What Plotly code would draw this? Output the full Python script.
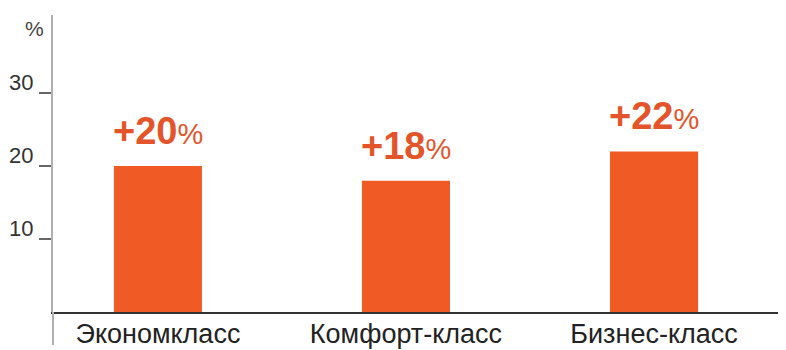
import plotly.graph_objects as go

categories = ["Экономкласс", "Комфорт-класс", "Бизнес-класс"]
values = [20, 18, 22]
tick_vals = [10, 20, 30]
tick_text = ["10", "20", "30"]

bar_color = "#f05a24"
label_color = "#e4542a"
FONT = "Liberation Sans, Arial, sans-serif"

fig = go.Figure()
fig.add_trace(go.Bar(
    x=categories, y=values,
    marker=dict(color=bar_color, line=dict(width=0)),
    hoverinfo="skip",
))

for c, v in zip(categories, values):
    fig.add_annotation(
        x=c, y=v, xref="x", yref="y",
        text=f"<b>+{v}</b><span style='font-size:29px'>%</span>",
        showarrow=False, yanchor="bottom", xanchor="center", yshift=12,
        font=dict(family=FONT, size=38, color=label_color),
    )

fig.add_annotation(
    x=0, y=1, xref="paper", yref="paper", text="%",
    showarrow=False, xanchor="right", yanchor="middle", xshift=-7, yshift=-13,
    font=dict(family=FONT, size=21, color="#444"),
)

# extension of the vertical axis line below the baseline
fig.add_shape(type="line", xref="paper", yref="paper", x0=0, x1=0, y0=0, y1=-0.111,
              line=dict(color="#b0b0b0", width=2))

# the page body has an 8px margin, so the figure is sized to fit the 786x350 window
fig.update_layout(
    width=778, height=342,
    margin=dict(l=45, r=0, t=7, b=38),
    paper_bgcolor="white", plot_bgcolor="white",
    showlegend=False, bargap=0.645,
    font=dict(family=FONT, color="#222"),
)
fig.update_xaxes(
    type="category", range=[-0.423, 2.532], automargin=False,
    showline=True, linecolor="#333", linewidth=2,
    ticks="", showgrid=False, zeroline=False,
    tickfont=dict(size=27, color="#222"),
    ticklabelstandoff=-3,
)
fig.update_yaxes(
    range=[0, 40.7], automargin=False,
    showline=True, linecolor="#b0b0b0", linewidth=2,
    ticks="outside", ticklen=12, tickwidth=1.5, tickcolor="#666",
    tickvals=tick_vals, ticktext=tick_text,
    ticklabelshift=-11, ticklabelstandoff=1,
    showgrid=False, zeroline=False,
    tickfont=dict(size=22, color="#333"),
)

fig.write_html("out.html")
